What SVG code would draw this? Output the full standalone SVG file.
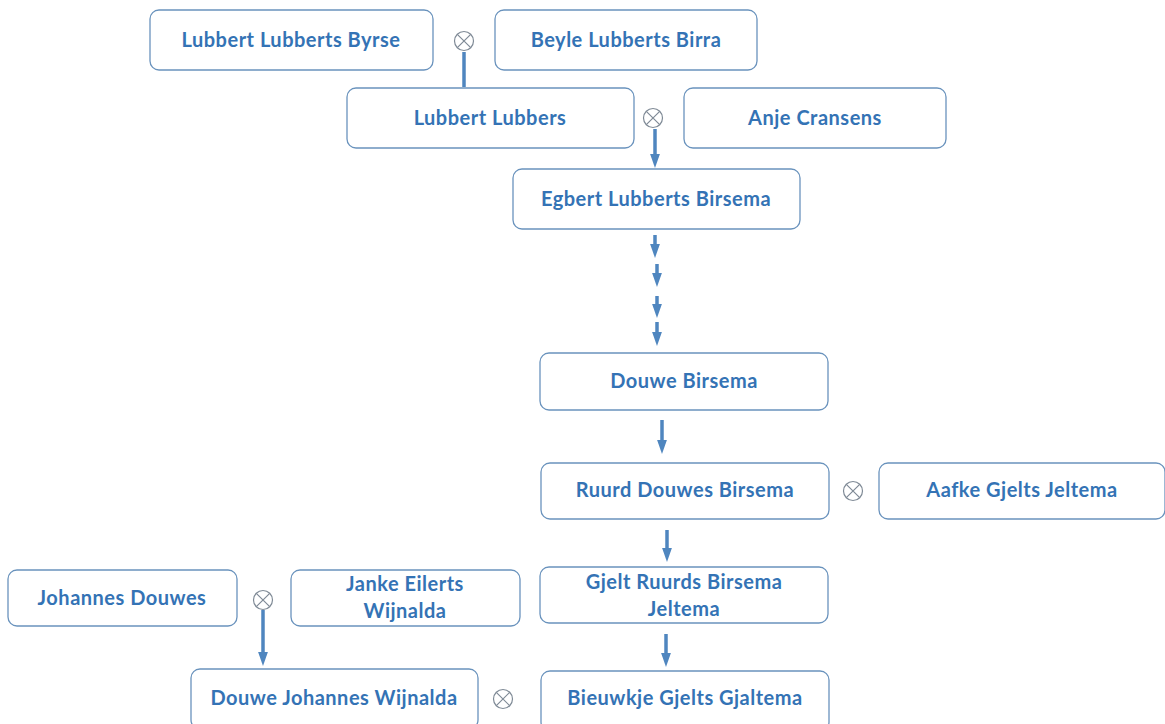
<svg xmlns="http://www.w3.org/2000/svg" width="1165" height="724" viewBox="0 0 1165 724">
<style>
.box{fill:#fff;stroke:#6a93bd;stroke-width:1.3}
.t{font-family:Lato,"Open Sans","Liberation Sans",sans-serif;font-weight:bold;font-size:20px;letter-spacing:0.5px;fill:#3473b5;text-anchor:middle}
.m{fill:none;stroke:#7f8a96;stroke-width:1.2}
.c{stroke:#4f86bf;stroke-width:3.5;fill:none}
</style>
<defs>
<marker id="ah" markerWidth="4" markerHeight="4" refX="2" refY="2" orient="auto" markerUnits="strokeWidth">
<path d="M0,0.6 L4,2 L0,3.4 z" fill="#4f86bf"/>
</marker>
<g id="mx"><circle r="9.5" class="m"/><path d="M-6.7,-6.7 L6.7,6.7 M6.7,-6.7 L-6.7,6.7" class="m"/></g>
</defs>
<rect width="1165" height="724" fill="#fff"/>
<g id="n1"><rect class="box" x="150" y="10" width="283" height="60" rx="9"/><text class="t" x="291" y="47">Lubbert Lubberts Byrse</text></g>
<g id="n2"><rect class="box" x="495" y="10" width="262" height="60" rx="9"/><text class="t" x="626" y="47">Beyle Lubberts Birra</text></g>
<g id="n3"><rect class="box" x="347" y="88" width="287" height="60" rx="9"/><text class="t" x="490" y="125">Lubbert Lubbers</text></g>
<g id="n4"><rect class="box" x="684" y="88" width="262" height="60" rx="9"/><text class="t" x="815" y="125">Anje Cransens</text></g>
<g id="n5"><rect class="box" x="513" y="169" width="287" height="60" rx="9"/><text class="t" x="656" y="206">Egbert Lubberts Birsema</text></g>
<g id="n6"><rect class="box" x="540" y="353" width="288" height="57" rx="9"/><text class="t" x="684" y="388">Douwe Birsema</text></g>
<g id="n7"><rect class="box" x="541" y="463" width="288" height="56" rx="9"/><text class="t" x="685" y="497">Ruurd Douwes Birsema</text></g>
<g id="n8"><rect class="box" x="879" y="463" width="286" height="56" rx="9"/><text class="t" x="1022" y="497">Aafke Gjelts Jeltema</text></g>
<g id="n9"><rect class="box" x="540" y="567" width="288" height="56" rx="9"/><text class="t" x="684" y="589">Gjelt Ruurds Birsema</text><text class="t" x="684" y="616">Jeltema</text></g>
<g id="n10"><rect class="box" x="541" y="671" width="288" height="60" rx="9"/><text class="t" x="685" y="705">Bieuwkje Gjelts Gjaltema</text></g>
<g id="n11"><rect class="box" x="8" y="570" width="229" height="56" rx="9"/><text class="t" x="122" y="605">Johannes Douwes</text></g>
<g id="n12"><rect class="box" x="291" y="570" width="229" height="56" rx="9"/><text class="t" x="405" y="591">Janke Eilerts</text><text class="t" x="405" y="618">Wijnalda</text></g>
<g id="n13"><rect class="box" x="191" y="669" width="287" height="60" rx="9"/><text class="t" x="334" y="705">Douwe Johannes Wijnalda</text></g>
<g id="marriages">
<use href="#mx" x="464" y="41"/>
<use href="#mx" x="653" y="118"/>
<use href="#mx" x="853" y="491"/>
<use href="#mx" x="263" y="600"/>
<use href="#mx" x="503" y="699"/>
</g>
<g id="connectors">
<line class="c" x1="464" y1="52" x2="464" y2="87"/>
<line class="c" x1="655" y1="129" x2="655" y2="161" marker-end="url(#ah)"/>
<line class="c" x1="655" y1="235" x2="655" y2="251" marker-end="url(#ah)"/>
<line class="c" x1="657" y1="264" x2="657" y2="280" marker-end="url(#ah)"/>
<line class="c" x1="657" y1="296" x2="657" y2="311" marker-end="url(#ah)"/>
<line class="c" x1="657" y1="322" x2="657" y2="339" marker-end="url(#ah)"/>
<line class="c" x1="662" y1="420" x2="662" y2="447" marker-end="url(#ah)"/>
<line class="c" x1="667" y1="530" x2="667" y2="555" marker-end="url(#ah)"/>
<line class="c" x1="666" y1="634" x2="666" y2="660" marker-end="url(#ah)"/>
<line class="c" x1="263" y1="610" x2="263" y2="659" marker-end="url(#ah)"/>
</g>
</svg>
